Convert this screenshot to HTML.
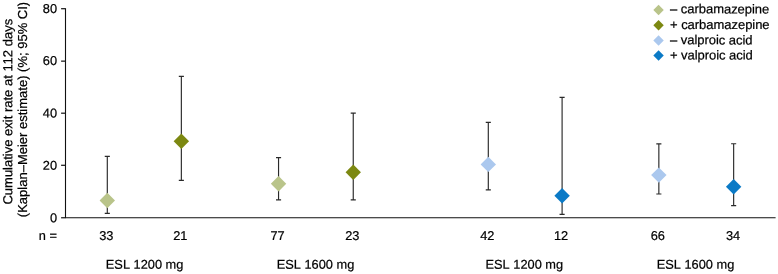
<!DOCTYPE html><html><head><meta charset="utf-8"><title>chart</title><style>html,body{margin:0;padding:0;background:#fff}svg{display:block}text{font-family:"Liberation Sans",Arial,sans-serif;font-kerning:none;fill:#000;stroke:#000;stroke-width:0.22px}</style></head><body>
<svg width="778" height="274" viewBox="0 0 778 274">
<rect width="778" height="274" fill="#fff"/>
<path d="M65.5 8.2V217.75H775.6" fill="none" stroke="#111" stroke-width="1.1"/>
<path d="M61.1 217.75H65.5" stroke="#1a1a1a" stroke-width="1.25"/>
<text transform="translate(57.00,222.25) rotate(0.03)" font-size="12.8" text-anchor="end">0</text>
<path d="M61.1 165.30H65.5" stroke="#1a1a1a" stroke-width="1.25"/>
<text transform="translate(57.00,169.80) rotate(0.03)" font-size="12.8" text-anchor="end">20</text>
<path d="M61.1 113.20H65.5" stroke="#1a1a1a" stroke-width="1.25"/>
<text transform="translate(57.00,117.60) rotate(0.03)" font-size="12.8" text-anchor="end">40</text>
<path d="M61.1 61.15H65.5" stroke="#1a1a1a" stroke-width="1.25"/>
<text transform="translate(57.00,65.05) rotate(0.03)" font-size="12.8" text-anchor="end">60</text>
<path d="M61.1 8.70H65.5" stroke="#1a1a1a" stroke-width="1.25"/>
<text transform="translate(57.00,13.10) rotate(0.03)" font-size="12.8" text-anchor="end">80</text>
<text transform="translate(12.20,111.70) rotate(-90.03)" font-size="13" text-anchor="middle">Cumulative exit rate at 112 days</text>
<text transform="translate(27.00,109.50) rotate(-90.03)" font-size="13" text-anchor="middle">(Kaplan–Meier estimate) (%; 95% CI)</text>
<path d="M107.3 156.4V213.4M104.75 156.4H109.85M104.75 213.4H109.85" stroke="#2a2a2a" stroke-width="1.15" fill="none"/>
<path d="M107.3 192.8L115.0 200.5L107.3 208.2L99.6 200.5Z" fill="#b9c48a"/>
<text transform="translate(106.30,240.00) rotate(0.03)" font-size="12.8" text-anchor="middle">33</text>
<path d="M181.35 76.4V180.3M178.79999999999998 76.4H183.9M178.79999999999998 180.3H183.9" stroke="#2a2a2a" stroke-width="1.15" fill="none"/>
<path d="M181.35 133.60000000000002L189.04999999999998 141.3L181.35 149.0L173.65 141.3Z" fill="#7c8811"/>
<text transform="translate(180.35,240.00) rotate(0.03)" font-size="12.8" text-anchor="middle">21</text>
<path d="M278.55 157.6V199.9M276.0 157.6H281.1M276.0 199.9H281.1" stroke="#2a2a2a" stroke-width="1.15" fill="none"/>
<path d="M278.55 176.10000000000002L286.25 183.8L278.55 191.5L270.85 183.8Z" fill="#b9c48a"/>
<text transform="translate(277.55,240.00) rotate(0.03)" font-size="12.8" text-anchor="middle">77</text>
<path d="M353.25 113.1V199.9M350.7 113.1H355.8M350.7 199.9H355.8" stroke="#2a2a2a" stroke-width="1.15" fill="none"/>
<path d="M353.25 164.5L360.95 172.2L353.25 179.89999999999998L345.55 172.2Z" fill="#7c8811"/>
<text transform="translate(352.25,240.00) rotate(0.03)" font-size="12.8" text-anchor="middle">23</text>
<path d="M488.3 122.4V189.8M485.75 122.4H490.85M485.75 189.8H490.85" stroke="#2a2a2a" stroke-width="1.15" fill="none"/>
<path d="M488.3 156.70000000000002L496.0 164.4L488.3 172.1L480.6 164.4Z" fill="#abc8ee"/>
<text transform="translate(487.30,240.00) rotate(0.03)" font-size="12.8" text-anchor="middle">42</text>
<path d="M562.1 97.3V214.3M559.5500000000001 97.3H564.65M559.5500000000001 214.3H564.65" stroke="#2a2a2a" stroke-width="1.15" fill="none"/>
<path d="M562.1 188.10000000000002L569.8000000000001 195.8L562.1 203.5L554.4 195.8Z" fill="#0b7ac6"/>
<text transform="translate(561.10,240.00) rotate(0.03)" font-size="12.8" text-anchor="middle">12</text>
<path d="M658.85 143.8V194.0M656.3000000000001 143.8H661.4M656.3000000000001 194.0H661.4" stroke="#2a2a2a" stroke-width="1.15" fill="none"/>
<path d="M658.85 167.4L666.5500000000001 175.1L658.85 182.79999999999998L651.15 175.1Z" fill="#abc8ee"/>
<text transform="translate(657.85,240.00) rotate(0.03)" font-size="12.8" text-anchor="middle">66</text>
<path d="M733.65 143.7V205.6M731.1 143.7H736.1999999999999M731.1 205.6H736.1999999999999" stroke="#2a2a2a" stroke-width="1.15" fill="none"/>
<path d="M733.65 179.10000000000002L741.35 186.8L733.65 194.5L725.9499999999999 186.8Z" fill="#0b7ac6"/>
<text transform="translate(733.05,240.00) rotate(0.03)" font-size="12.8" text-anchor="middle">34</text>
<text transform="translate(57.00,240.00) rotate(0.03)" font-size="12.8" text-anchor="end">n =</text>
<text transform="translate(144.60,268.80) rotate(0.03)" font-size="12.8" text-anchor="middle">ESL 1200 mg</text>
<text transform="translate(315.50,268.80) rotate(0.03)" font-size="12.8" text-anchor="middle">ESL 1600 mg</text>
<text transform="translate(524.30,268.80) rotate(0.03)" font-size="12.8" text-anchor="middle">ESL 1200 mg</text>
<text transform="translate(695.50,268.80) rotate(0.03)" font-size="12.8" text-anchor="middle">ESL 1600 mg</text>
<path d="M658.55 4.8L663.75 10.0L658.55 15.2L653.3499999999999 10.0Z" fill="#b9c48a"/>
<text transform="translate(670.00,13.35) rotate(0.03)" font-size="13" textLength="99.3" lengthAdjust="spacing">– carbamazepine</text>
<path d="M658.55 20.0L663.75 25.2L658.55 30.4L653.3499999999999 25.2Z" fill="#7c8811"/>
<text transform="translate(670.00,28.90) rotate(0.03)" font-size="13" textLength="99.6" lengthAdjust="spacing">+ carbamazepine</text>
<path d="M658.55 35.349999999999994L663.75 40.55L658.55 45.75L653.3499999999999 40.55Z" fill="#abc8ee"/>
<text transform="translate(670.00,44.35) rotate(0.03)" font-size="13" textLength="82.5" lengthAdjust="spacing">– valproic acid</text>
<path d="M658.55 50.349999999999994L663.75 55.55L658.55 60.75L653.3499999999999 55.55Z" fill="#0b7ac6"/>
<text transform="translate(670.00,59.50) rotate(0.03)" font-size="13" textLength="82.8" lengthAdjust="spacing">+ valproic acid</text>
</svg></body></html>
